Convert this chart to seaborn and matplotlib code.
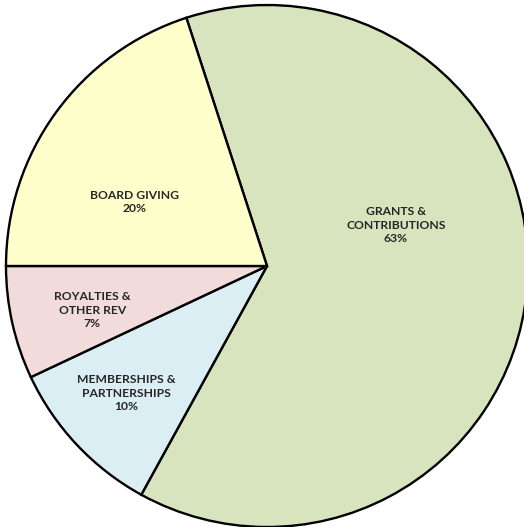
import matplotlib
matplotlib.use("Agg")
import matplotlib.pyplot as plt
import seaborn as sns

# Revenue mix, in clockwise order starting from the Grants slice
categories = ["GRANTS &\nCONTRIBUTIONS", "MEMBERSHIPS &\nPARTNERSHIPS", "ROYALTIES &\nOTHER REV", "BOARD GIVING"]
shares = [63, 10, 7, 20]

# slice fills
fill_colors = ["#D7E4BD", "#DBEEF4", "#F2DCDB", "#FFFFCC"]

# label anchor points (pie radius = 1)
label_xy = [(0.494, 0.157), (-0.540, -0.487), (-0.670, -0.169), (-0.506, 0.245)]

sns.set_theme(style="white")
plt.rcParams["font.family"] = ["Lato", "DejaVu Sans"]

fig = plt.figure(figsize=(5.24, 5.27), dpi=100)
fig.patch.set_facecolor("white")
ax = fig.add_axes([6 / 524, 0 / 527, 522 / 524, 522 / 527])

wedges, _ = ax.pie(
    shares,
    colors=fill_colors,
    startangle=108,
    counterclock=False,
    radius=1.0,
    wedgeprops=dict(edgecolor="black", linewidth=1.7, antialiased=True),
)
for w in wedges:
    w.set_clip_on(False)

ax.set_xlim(-1, 1)
ax.set_ylim(-1, 1)
ax.set_aspect("equal")
ax.axis("off")

for name, val, (x, y) in zip(categories, shares, label_xy):
    ax.text(x, y, f"{name}\n{val}%", ha="center", va="center",
            fontsize=8.7, fontweight="bold", color="#262626", linespacing=1.3)

fig.savefig("out.png", dpi=100, facecolor="white")
